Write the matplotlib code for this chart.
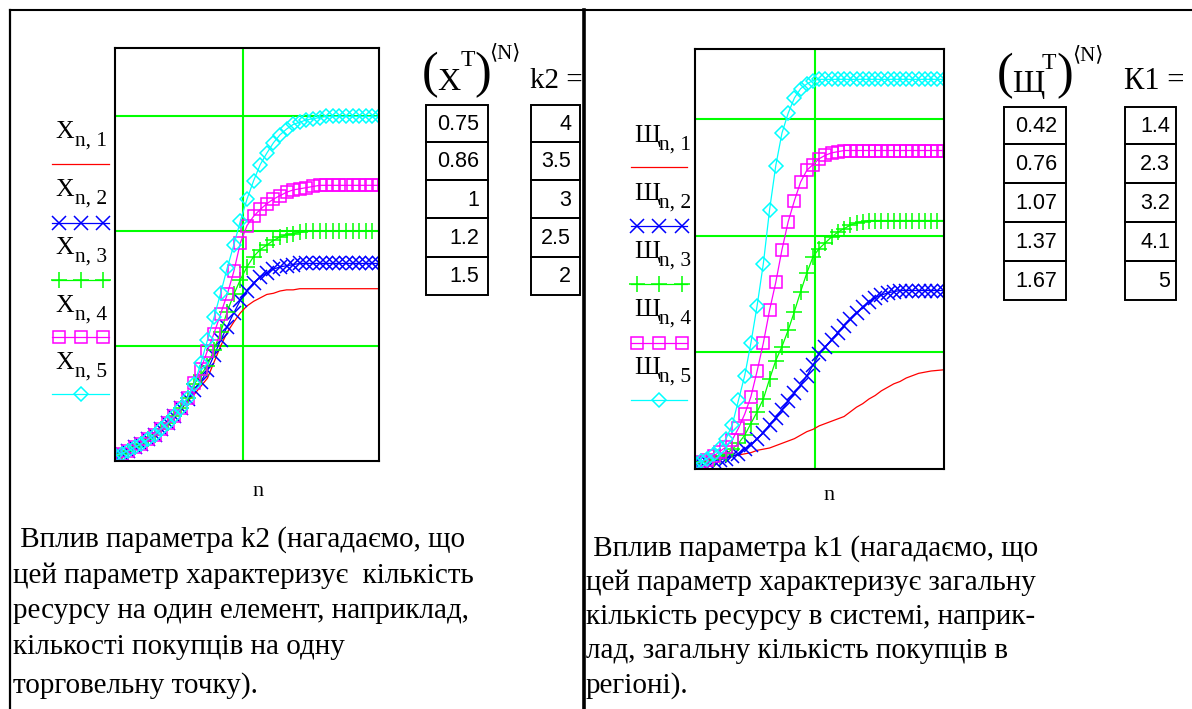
import matplotlib
matplotlib.use('Agg')
import matplotlib.pyplot as plt
from matplotlib.patches import Rectangle

plt.rcParams['font.family'] = ['Liberation Serif', 'DejaVu Serif', 'DejaVu Sans']

W, H = 1192, 709

# step index
n = list(range(41))

# left panel: X_{n,j}, effect of k2
x_1 = [0.05, 0.065, 0.09, 0.12, 0.15, 0.19, 0.23, 0.28, 0.33, 0.39, 0.45, 0.52, 0.58, 0.65,
       0.72, 0.86, 1.00, 1.12, 1.21, 1.29, 1.35, 1.39, 1.42, 1.45, 1.46, 1.48, 1.49, 1.49,
       1.50, 1.50, 1.50, 1.50, 1.50, 1.50, 1.50, 1.50, 1.50, 1.50, 1.50, 1.50, 1.50]
x_2 = [0.05, 0.065, 0.09, 0.12, 0.15, 0.19, 0.23, 0.28, 0.33, 0.39, 0.46, 0.54, 0.62, 0.69,
       0.79, 0.92, 1.05, 1.17, 1.29, 1.40, 1.48, 1.55, 1.60, 1.64, 1.67, 1.69, 1.70, 1.71,
       1.72, 1.72, 1.72, 1.72, 1.72, 1.72, 1.72, 1.72, 1.72, 1.72, 1.72, 1.72, 1.72]
x_3 = [0.05, 0.065, 0.09, 0.12, 0.15, 0.19, 0.23, 0.28, 0.33, 0.39, 0.46, 0.55, 0.67, 0.75,
       0.83, 0.97, 1.12, 1.30, 1.45, 1.58, 1.69, 1.78, 1.84, 1.88, 1.92, 1.95, 1.97, 1.98,
       1.99, 2.00, 2.00, 2.00, 2.00, 2.00, 2.00, 2.00, 2.00, 2.00, 2.00, 2.00, 2.00]
x_4 = [0.05, 0.065, 0.09, 0.12, 0.15, 0.19, 0.23, 0.28, 0.33, 0.39, 0.46, 0.55, 0.68, 0.80,
       0.96, 1.11, 1.28, 1.45, 1.65, 1.90, 2.05, 2.13, 2.19, 2.24, 2.28, 2.31, 2.34, 2.36,
       2.37, 2.38, 2.39, 2.40, 2.40, 2.40, 2.40, 2.40, 2.40, 2.40, 2.40, 2.40, 2.40]
x_5 = [0.05, 0.065, 0.09, 0.12, 0.15, 0.19, 0.23, 0.28, 0.33, 0.39, 0.46, 0.55, 0.67, 0.85,
       1.05, 1.25, 1.46, 1.68, 1.88, 2.09, 2.28, 2.44, 2.58, 2.68, 2.77, 2.84, 2.89, 2.93,
       2.95, 2.97, 2.98, 2.99, 3.00, 3.00, 3.00, 3.00, 3.00, 3.00, 3.00, 3.00, 3.00]

# right panel: Щ_{n,j}, effect of k1
sh_1 = [0.05, 0.06, 0.07, 0.08, 0.09, 0.10, 0.11, 0.12, 0.13, 0.14, 0.16, 0.17, 0.18, 0.20,
        0.22, 0.24, 0.26, 0.29, 0.32, 0.34, 0.37, 0.39, 0.41, 0.43, 0.45, 0.49, 0.53, 0.56,
        0.60, 0.63, 0.67, 0.70, 0.73, 0.75, 0.78, 0.80, 0.82, 0.83, 0.84, 0.845, 0.85]
sh_2 = [0.05, 0.055, 0.06, 0.07, 0.08, 0.09, 0.11, 0.13, 0.17, 0.21, 0.26, 0.31, 0.38, 0.44,
        0.51, 0.58, 0.65, 0.72, 0.80, 0.89, 0.99, 1.05, 1.11, 1.17, 1.23, 1.29, 1.34, 1.39,
        1.43, 1.47, 1.49, 1.51, 1.52, 1.53, 1.53, 1.53, 1.53, 1.53, 1.53, 1.53, 1.53]
sh_3 = [0.05, 0.06, 0.07, 0.09, 0.11, 0.13, 0.17, 0.22, 0.29, 0.39, 0.49, 0.60, 0.77, 0.93,
        1.05, 1.19, 1.35, 1.52, 1.68, 1.82, 1.89, 1.94, 1.99, 2.03, 2.06, 2.09, 2.11, 2.12,
        2.13, 2.13, 2.13, 2.13, 2.13, 2.13, 2.13, 2.13, 2.13, 2.13, 2.13, 2.13, 2.13]
sh_4 = [0.05, 0.06, 0.08, 0.11, 0.15, 0.19, 0.25, 0.35, 0.47, 0.62, 0.84, 1.08, 1.36, 1.60,
        1.88, 2.12, 2.30, 2.46, 2.56, 2.61, 2.66, 2.69, 2.71, 2.72, 2.73, 2.73, 2.73, 2.73,
        2.73, 2.73, 2.73, 2.73, 2.73, 2.73, 2.73, 2.73, 2.73, 2.73, 2.73, 2.73, 2.73]
sh_5 = [0.05, 0.065, 0.09, 0.13, 0.18, 0.26, 0.38, 0.59, 0.80, 1.08, 1.40, 1.76, 2.22, 2.60,
        2.88, 3.05, 3.18, 3.26, 3.30, 3.33, 3.34, 3.34, 3.34, 3.34, 3.34, 3.34, 3.34, 3.34,
        3.34, 3.34, 3.34, 3.34, 3.34, 3.34, 3.34, 3.34, 3.34, 3.34, 3.34, 3.34, 3.34]

# parameter tables shown next to the plots
x_T = [0.75, 0.86, 1, 1.2, 1.5]
k2 = [4, 3.5, 3, 2.5, 2]
sh_T = [0.42, 0.76, 1.07, 1.37, 1.67]
k1 = [1.4, 2.3, 3.2, 4.1, 5]

left_text = [' Вплив параметра k2 (нагадаємо, що',
             'цей параметр характеризує  кількість',
             'ресурсу на один елемент, наприклад,',
             'кількості покупців на одну',
             'торговельну точку).']
right_text = [' Вплив параметра k1 (нагадаємо, що',
              'цей параметр характеризує загальну',
              'кількість ресурсу в системі, наприк-',
              'лад, загальну кількість покупців в',
              'регіоні).']

STYLES = [
    dict(color='#FF0000', lw=0.9),
    dict(color='#0000FF', lw=0.9, marker='x', ms=9.5, mew=1.1),
    dict(color='#00FF00', lw=0.9, marker='+', ms=11, mew=1.1),
    dict(color='#FF00FF', lw=0.9, marker='s', ms=8, mew=1.1, mfc='none'),
    dict(color='#00FFFF', lw=0.9, marker='D', ms=7, mew=1.1, mfc='none'),
]
GRID = '#00FF00'
SANS = 'Liberation Sans'
BRACKETS = ['Liberation Serif', 'DejaVu Serif', 'DejaVu Sans']


def rect(x0, y0, x1, y1):
    return [x0 / W, 1 - y1 / H, (x1 - x0) / W, (y1 - y0) / H]


def draw_panel(box, series):
    ax = fig.add_axes(rect(*box))
    for ys, st in zip(series, STYLES):
        ax.plot(n, ys, **st)
    ax.set_xlim(0, 40)
    ax.set_ylim(0, 3.6)
    ax.set_xticks([0.4835 * 40])
    ax.set_yticks([1, 2, 3])
    ax.tick_params(length=0, labelbottom=False, labelleft=False)
    ax.grid(True, color=GRID, lw=1.5)
    ax.set_axisbelow(True)
    for sp in ax.spines.values():
        sp.set_linewidth(1.5)
    return ax


def draw_legend(letter, x_txt, x_sub, baselines, line_x, mark_xs, line_ys):
    for i, (yb, yl, st) in enumerate(zip(baselines, line_ys, STYLES)):
        ov.text(x_txt, yb, letter, fontsize=18.5, va='baseline', ha='left')
        ov.text(x_sub, yb + 8, 'n, {}'.format(i + 1), fontsize=15.5, va='baseline', ha='left')
        ov.plot(line_x, [yl, yl], color=st['color'], lw=st['lw'])
        if 'marker' in st:
            xs = mark_xs if st['marker'] != 'D' else [mark_xs[1]]
            ov.plot(xs, [yl] * len(xs), ls='none', marker=st['marker'], ms=st['ms'],
                    mew=st['mew'], color=st['color'], mfc=st.get('mfc', st['color']))


def draw_table(x0, x1, rows, values, x_txt):
    for i, v in enumerate(values):
        ov.add_patch(Rectangle((x0, rows[i]), x1 - x0, rows[i + 1] - rows[i],
                               fill=False, lw=1.4, ec='black'))
        ov.text(x_txt, (rows[i] + rows[i + 1]) / 2 + 1, '{:g}'.format(v), fontsize=15.5,
                family=SANS, ha='right', va='center')


fig = plt.figure(figsize=(W / 100, H / 100), dpi=100)
ov = fig.add_axes([0, 0, 1, 1])
ov.set_xlim(0, W)
ov.set_ylim(H, 0)
ov.axis('off')

# cell frame
ov.plot([9.5, W], [10, 10], color='black', lw=1.5)
ov.plot([9.5, 9.5], [10, H], color='black', lw=1.6)
ov.plot([583.5, 583.5], [10, H], color='black', lw=2.6)

draw_panel((115, 47.5, 379, 461), [x_1, x_2, x_3, x_4, x_5])
draw_panel((695, 49, 943.5, 469), [sh_1, sh_2, sh_3, sh_4, sh_5])

draw_legend('X', 55, 75, [138, 196, 254, 312, 369], [52, 109], [59, 80.5, 102.5],
            [164, 223, 280, 337, 394])
draw_legend('Щ', 634, 659, [142, 200, 258, 316, 374], [631, 687], [637, 659, 682],
            [167, 226, 284, 343, 400])

# headers of the tables
ov.text(422, 87, '(', fontsize=36, va='baseline')
ov.text(437, 90, 'X', fontsize=23, va='baseline')
ov.text(461, 66, 'T', fontsize=17, va='baseline')
ov.text(474, 87, ')', fontsize=36, va='baseline')
ov.text(489, 58, '⟨N⟩', fontsize=15, va='baseline', family=BRACKETS)
ov.text(530, 88, 'k2 =', fontsize=21, va='baseline')

ov.text(997, 88, '(', fontsize=36, va='baseline')
ov.text(1012, 92, 'Щ', fontsize=23, va='baseline')
ov.text(1042, 69, 'T', fontsize=17, va='baseline')
ov.text(1056, 88, ')', fontsize=36, va='baseline')
ov.text(1072, 60, '⟨N⟩', fontsize=15, va='baseline', family=BRACKETS)
ov.text(1124, 89, 'К1 =', fontsize=22, va='baseline')

draw_table(426, 487.5, [105, 141.7, 180, 218.3, 256.7, 295], x_T, 479)
draw_table(531, 580, [105, 141.7, 180, 218.3, 256.7, 295], k2, 571)
draw_table(1003.5, 1066, [106.7, 144, 182.7, 221.7, 260.7, 300], sh_T, 1057)
draw_table(1124.5, 1176, [106.7, 144, 182.7, 221.7, 260.7, 300], k1, 1170)

ov.text(258, 496, 'n', fontsize=16, ha='center', va='baseline')
ov.text(829, 500, 'n', fontsize=16, ha='center', va='baseline')

for i, line in enumerate(left_text):
    ov.text(13, [547, 583, 618, 654, 693][i], line, fontsize=21, va='baseline')
for i, line in enumerate(right_text):
    ov.text(586, [556, 590, 624, 658, 693][i], line, fontsize=21, va='baseline')

fig.savefig('out.png', dpi=100)
